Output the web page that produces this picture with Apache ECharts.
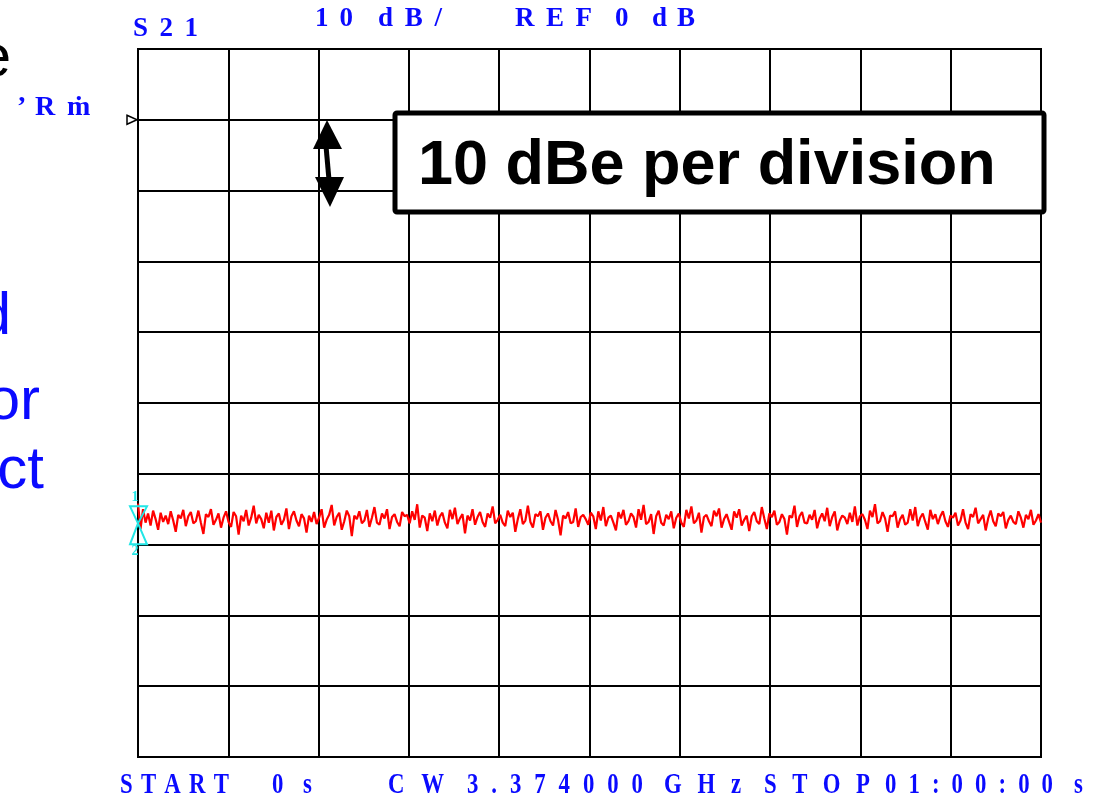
<!DOCTYPE html>
<html><head><meta charset="utf-8">
<script src="https://cdn.jsdelivr.net/npm/echarts@6/dist/echarts.min.js"></script>
<style>html,body{margin:0;padding:0;background:#fff;overflow:hidden}#c{width:1101px;height:798px}</style>
</head><body><div id="c"></div>
<script>
// ---------------- data ----------------
const sweepStartSec = 0;
const sweepStopSec = 3600;
const refLevelDb = 0;
const yMinDb = -90, yMaxDb = 10, yStepDb = 10;
const xStepSec = 360;
const markerLevelDb = -57.0;

// S21 trace (dB), evenly spaced in time
const s21dB = [
-54.2,-57.8,-55.0,-56.9,-55.6,-57.3,-55.2,-56.4,-57.9,-55.5,-56.8,-55.9,-57.1,-55.3,-56.6,-58.2,-55.8,-56.3,-55.1,-57.4,-56.0,-55.4,-57.0,-56.7,-55.2,-56.9,-58.5,-55.7,-56.1,-55.0,-57.2,-56.5,-55.6,-57.6,-56.2,-55.3,
-56.8,-57.5,-55.4,-56.0,-58.6,-55.9,-56.7,-55.1,-57.3,-56.2,-54.5,-57.0,-55.8,-56.4,-57.7,-55.5,-56.9,-55.2,-58.0,-56.1,-55.6,-57.2,-56.5,-54.9,-57.8,-56.0,-55.3,-56.6,-57.4,-55.7,-56.3,-58.3,-55.9,-56.8,-55.4,-57.1,
-56.2,-55.0,-57.6,-56.5,-55.8,-54.4,-57.3,-56.1,-55.5,-57.9,-56.7,-55.2,-56.0,-58.8,-55.9,-56.4,-55.3,-57.0,-56.6,-55.1,-57.5,-56.2,-54.7,-56.9,-57.2,-55.6,-56.3,-55.0,-57.8,-56.1,-55.7,-56.8,-57.4,-55.4,-56.0,-55.8,
-57.0,-55.3,-56.5,-54.3,-57.6,-55.9,-56.2,-58.1,-55.6,-56.7,-55.2,-57.3,-56.0,-55.5,-56.9,-57.7,-55.1,-56.4,-54.8,-57.1,-56.3,-55.7,-58.4,-55.9,-56.6,-55.0,-57.2,-56.1,-55.4,-56.8,-57.5,-55.6,-56.2,-54.6,-57.0,-56.5,
-55.8,-56.9,-57.4,-55.2,-56.1,-55.5,-58.2,-56.4,-55.0,-57.1,-56.6,-54.5,-56.8,-57.6,-55.7,-56.0,-55.3,-57.9,-56.2,-55.6,-56.7,-57.3,-55.1,-56.5,-58.7,-55.9,-56.3,-55.4,-57.0,-56.8,-54.9,-57.5,-56.1,-55.8,-56.4,-57.2,
-55.5,-56.0,-57.8,-55.3,-56.6,-54.7,-57.4,-56.2,-55.9,-56.9,-58.0,-55.4,-56.3,-55.1,-57.2,-56.7,-55.6,-56.1,-57.6,-55.0,-56.5,-54.4,-57.1,-56.8,-55.7,-58.5,-56.0,-55.2,-56.9,-57.3,-55.8,-56.4,-55.3,-57.7,-56.2,-55.6,
-56.9,-57.5,-55.1,-56.3,-54.6,-57.0,-56.6,-55.5,-58.3,-56.1,-55.8,-56.7,-57.4,-55.2,-56.0,-54.9,-57.6,-56.4,-55.7,-56.8,-57.9,-55.3,-56.2,-55.0,-57.3,-56.5,-55.9,-58.1,-56.0,-55.4,-56.7,-57.1,-54.7,-56.3,-57.8,-55.6,
-56.1,-55.2,-57.2,-56.8,-55.7,-56.4,-58.6,-55.9,-56.2,-54.5,-57.5,-56.0,-55.4,-56.9,-57.0,-55.8,-56.5,-55.1,-57.7,-56.3,-55.6,-56.7,-54.8,-57.4,-56.1,-55.3,-58.0,-56.6,-55.9,-56.2,-57.1,-55.5,-56.8,-54.6,-57.3,-56.0,
-55.7,-56.5,-57.8,-55.2,-56.1,-54.3,-57.0,-56.7,-55.4,-56.3,-58.2,-55.9,-56.0,-55.3,-57.6,-56.4,-55.8,-57.2,-56.9,-55.0,-56.6,-54.7,-57.4,-56.2,-55.6,-56.8,-57.9,-55.1,-56.4,-55.7,-57.1,-56.0,-55.3,-56.7,-57.5,-55.9,
-56.2,-55.5,-57.3,-56.6,-55.0,-56.9,-57.8,-55.7,-56.1,-54.8,-57.0,-56.4,-55.8,-58.0,-56.3,-55.2,-56.7,-57.4,-55.6,-56.0,-55.4,-57.7,-56.5,-55.9,-56.8,-57.1,-55.3,-56.2,-57.6,-55.8,-56.4,-55.1,-57.2,-56.6,-55.7,-56.9
];

// texts
const headerTexts = ['S21', '10', 'dB/', 'REF', '0', 'dB'];
const footerTexts = ['START', '0', 's', 'CW', '3.374000', 'GHz', 'STOP', '01:00:00', 's'];
const sideTexts = ['e', 'd', 'or', 'ct'];
const stripTexts = ['\u2019', 'R', '\u1E41'];
const markerLabels = ['1', '2'];
const calloutText = '10 dBe per division';

// ---------------- layout (not data) ----------------
const headerLayout = [[133,198,38],[315,353,28],[378,442,28],[515,592,28],[615,628,28],[652,695,28]];
const footerLayout = [[120,229,795],[272,285,795],[303,317,795],[388,444,795],[467,643,795],[664,741,795],[764,870,795],[885,1053,795],[1074,1089,795]];
const sideLayout = [[11,80,'#000'],[11,338,'#0a0aff'],[40,423,'#0a0aff'],[44,492,'#0a0aff']];
const stripLayout = [17,35,67];

const BLUE = '#0a0aff';
const SERIF = '"Liberation Serif","Times New Roman",serif';
const SANS = '"Liberation Sans",Arial,sans-serif';

const mctx = document.createElement('canvas').getContext('2d');
function spaced(str, x0, x1, baseline, size, sx, color, family) {
  const font = 'bold ' + size + 'px ' + family;
  mctx.font = font;
  const chars = Array.from(str);
  const ws = chars.map(ch => mctx.measureText(ch).width * sx);
  const total = ws.reduce((a, b) => a + b, 0);
  const gap = chars.length > 1 ? (x1 - x0 - total) / (chars.length - 1) : 0;
  let x = x0;
  const out = [];
  chars.forEach((ch, i) => {
    out.push({type: 'text', x: x, y: baseline - 0.34 * size, scaleX: sx, z: 100, silent: true,
      style: {text: ch, font: font, fill: color, textAlign: 'left', textVerticalAlign: 'middle', verticalAlign: 'middle'}});
    x += ws[i] + gap;
  });
  return out;
}

const times = s21dB.map((_, i) => sweepStartSec + i * (sweepStopSec - sweepStartSec) / (s21dB.length - 1));
const traceData = s21dB.map((v, i) => [times[i], v]);

const chart = echarts.init(document.getElementById('c'), null, {renderer: 'canvas'});
chart.setOption({
  animation: false,
  backgroundColor: '#fff',
  grid: {left: 138, top: 49, width: 903, height: 708, show: true, borderColor: '#000', borderWidth: 2, backgroundColor: 'transparent'},
  xAxis: {type: 'value', min: sweepStartSec, max: sweepStopSec, interval: xStepSec,
    axisLine: {show: false}, axisTick: {show: false}, axisLabel: {show: false},
    splitLine: {show: true, lineStyle: {color: '#000', width: 2}}},
  yAxis: {type: 'value', min: yMinDb, max: yMaxDb, interval: yStepDb,
    axisLine: {show: false}, axisTick: {show: false}, axisLabel: {show: false},
    splitLine: {show: true, lineStyle: {color: '#000', width: 2}}},
  series: [{type: 'line', data: traceData, showSymbol: false, symbol: 'none',
    lineStyle: {color: '#ff0000', width: 2.2}, z: 5}]
});

const x0px = chart.convertToPixel({xAxisIndex: 0}, sweepStartSec);
const refPx = chart.convertToPixel({yAxisIndex: 0}, refLevelDb);
const mkPx = chart.convertToPixel({yAxisIndex: 0}, markerLevelDb);

let g = [];
headerTexts.forEach((t, i) => { const L = headerLayout[i]; g = g.concat(spaced(t, L[0], L[1], L[2], 27, 1, BLUE, SERIF)); });
footerTexts.forEach((t, i) => { const L = footerLayout[i]; g = g.concat(spaced(t, L[0], L[1], L[2], 30, 0.76, BLUE, SERIF)); });
sideTexts.forEach((t, i) => {
  const L = sideLayout[i];
  g.push({type: 'text', x: L[0], y: L[1] - 0.3465 * 60, z: 100, silent: true,
    style: {text: t, font: '60px ' + SANS, fill: L[2], textAlign: 'right', textVerticalAlign: 'middle', verticalAlign: 'middle'}});
});
stripTexts.forEach((t, i) => {
  g.push({type: 'text', x: stripLayout[i], y: 117 - 0.34 * 28, z: 100, silent: true,
    style: {text: t, font: 'bold 28px ' + SERIF, fill: BLUE, textAlign: 'left', textVerticalAlign: 'middle', verticalAlign: 'middle'}});
});
g.push({type: 'polygon', z: 100, silent: true, shape: {points: [[x0px - 11, refPx - 4.5], [x0px - 1, refPx], [x0px - 11, refPx + 4.5]]},
  style: {fill: '#fff', stroke: '#000', lineWidth: 1.5}});
g.push({type: 'polygon', z: 110, silent: true, shape: {points: [[x0px - 8, mkPx - 17], [x0px + 9, mkPx - 17], [x0px, mkPx]]},
  style: {fill: 'none', stroke: '#22e6e6', lineWidth: 2}});
g.push({type: 'polygon', z: 110, silent: true, shape: {points: [[x0px, mkPx], [x0px - 8, mkPx + 21], [x0px + 9, mkPx + 21]]},
  style: {fill: 'none', stroke: '#22e6e6', lineWidth: 2}});
g.push({type: 'text', x: x0px - 3, y: mkPx - 26, z: 110, silent: true,
  style: {text: markerLabels[0], font: 'bold 14px ' + SERIF, fill: '#22e6e6', textAlign: 'center', textVerticalAlign: 'middle', verticalAlign: 'middle'}});
g.push({type: 'text', x: x0px - 3, y: mkPx + 28, z: 110, silent: true,
  style: {text: markerLabels[1], font: 'bold 14px ' + SERIF, fill: '#22e6e6', textAlign: 'center', textVerticalAlign: 'middle', verticalAlign: 'middle'}});
g.push({type: 'line', z: 100, silent: true, shape: {x1: 326, y1: 146, x2: 329, y2: 180}, style: {stroke: '#000', lineWidth: 5}});
g.push({type: 'polygon', z: 100, silent: true, shape: {points: [[327, 120], [313, 149], [342, 149]]}, style: {fill: '#000'}});
g.push({type: 'polygon', z: 100, silent: true, shape: {points: [[315, 177], [344, 177], [330, 207]]}, style: {fill: '#000'}});
g.push({type: 'rect', z: 100, silent: true, shape: {x: 395, y: 113, width: 649, height: 99, r: 2},
  style: {fill: '#fff', stroke: '#000', lineWidth: 5}});
g.push({type: 'text', x: 418, y: 188 - 0.3465 * 63, z: 101, silent: true,
  style: {text: calloutText, font: 'bold 63px ' + SANS, fill: '#000', textAlign: 'left', textVerticalAlign: 'middle', verticalAlign: 'middle'}});

chart.setOption({graphic: {elements: g}});
</script>
</body></html>
